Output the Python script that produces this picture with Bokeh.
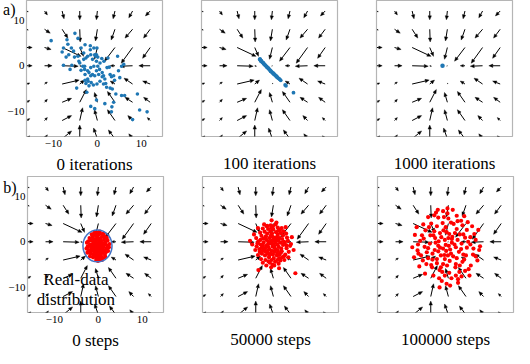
import math
from bokeh.plotting import figure
from bokeh.layouts import column, row
from bokeh.models import FixedTicker, LinearAxis, Range1d
from bokeh.core.properties import value
from bokeh.embed import file_html
from bokeh.resources import INLINE

# ---------------- data ----------------
grid_x = [-16, -12, -8, -4, 0, 4, 8, 12]
grid_y = [12, 8, 4, 0, -4, -8, -12, -16]   # rows, top to bottom

# vector field components (data units), rows follow grid_y, columns follow grid_x
U = [
    [0.30, 0.65, 0.43, 0.00, -0.22, -0.43, -0.86, -1.08],
    [0.30, 1.29, 1.29, 0.10, -0.43, -0.86, -1.72, -1.50],
    [1.20, 1.50, 4.30, 0.86, -0.65, -2.37, -2.58, -1.72],
    [1.20, 1.72, 3.66, 0.40, -0.15, -1.08, -2.80, -2.58],
    [0.65, 0.65, 3.87, 1.08, 0.10, -1.08, -1.94, -1.72],
    [0.65, 0.65, 2.15, 1.50, -0.65, -1.72, -1.72, -1.50],
    [0.65, 0.65, 2.15, 0.65, -0.65, -1.72, -1.08, -0.65],
    [0.65, 0.65, 2.15, 0.00, -0.86, -1.50, -0.86, -0.65],
]
V = [
    [-0.20, -0.86, -1.72, -1.94, -1.94, -1.72, -1.50, -1.08],
    [-0.20, -0.86, -1.94, -2.80, -2.58, -2.37, -1.94, -1.94],
    [0.00, -0.43, -1.94, -1.94, -2.58, -3.00, -3.44, -2.37],
    [0.00, 0.00, -0.10, -0.10, -0.10, 0.00, -0.10, 0.00],
    [0.22, 0.43, 0.86, 0.86, 0.20, 0.65, 1.29, 0.65],
    [0.43, 0.65, 0.86, 2.80, 2.15, 2.37, 1.08, 1.08],
    [0.43, 0.65, 1.08, 2.80, 2.37, 2.37, 1.08, 0.65],
    [0.65, 0.86, 1.72, 3.00, 2.37, 1.94, 1.08, 0.65],
]

axis_ticks = [-10, 0, 10]

captions_top = ["0 iterations", "100 iterations", "1000 iterations"]
captions_bottom = ["0 steps", "50000 steps", "100000 steps"]
panel_letters = ["a)", "b)"]
letter_y = [12.5, 13.0]
note_lines = ["Real-data", "distribution"]

# generated samples, 0 iterations
a1_x = [-10.5, -5.1, -6.9, -6.7, -4.4, -7.7, -8.0, -5.9, -5.2, -7.1, -7.7, -5.8, -4.2, -3.7, -2.8, -1.6,
        -0.8, -3.1, -2.2, -1.5, -2.6, -0.4, -0.2, 0.1, -1.1, -4.0, -3.3, -2.9, -2.2, -2.8, -1.9, -1.5,
        -0.8, 0.1, 0.5, -0.2, -1.1, -1.5, -0.6, 0.3, 1.1, 1.4, 1.7, 0.6, -0.1, -0.9, -1.9, -2.6,
        -4.7, -2.4, -1.4, 1.4, 2.1, 2.9, 3.2, 3.7, 2.7, 2.4, 4.6, 4.8, 5.1, 3.9, 3.4, 4.2, 5.5, 3.7,
        1.7, -0.2, -0.6, -1.5, -2.2, -2.8, -2.1, -2.9, -3.7, 1.0, 1.5, 0.6, -0.2, 2.2, 1.1, 1.9,
        2.9, 6.0, 5.5, 9.1, 6.2, 9.6, 11.3, 8.0, 3.2, 3.3, -0.1, -1.6, -3.1, -4.4, -6.5, -5.4,
        -6.2, -0.6]
a1_y = [5.5, 7.1, 5.7, 4.7, 6.0, 3.9, 3.0, 3.9, 1.9, 1.9, 0.1, 0.1, 1.0, 3.9, 4.6, 4.4,
        3.9, 2.8, 2.1, 2.4, 1.7, 2.1, 2.4, 1.9, 1.4, 0.6, -0.1, -0.8, -1.1, -1.9, -1.5, -0.4,
        -0.1, -0.1, -0.8, -1.1, -1.9, -2.2, -2.2, -1.9, -1.5, -2.2, -2.9, -3.4, -4.0, -4.2, -4.4, -3.9,
        -4.9, -5.8, -3.7, -4.0, -4.7, -1.9, -2.4, -2.2, -0.3, 1.7, 2.1, -1.1, -2.6, -3.2, -5.1, -6.2,
        -6.5, -8.0, -8.3, -7.5, -9.4, -8.9, -2.9, -3.2, -3.4, -0.1, -1.0, 1.6, 1.0, 0.6, 1.0, -0.4,
        -2.4, -3.9, -4.9, 0.3, -0.1, -6.2, -6.5, -9.7, -10.1, -11.8, -10.1, -9.0, 3.9, 3.5, 1.4, 2.1,
        2.4, 3.2, -0.8, 2.4]

# 100 iterations
a2_x = [-2.9, -2.8, -2.7, -2.6, -2.5, -2.4, -2.2, -2.1, -2.0, -1.9, -1.7, -1.6, -1.5, -1.3, -1.2, -1.0,
        -0.9, -0.8, -0.6, -0.5, -0.4, -0.3, -0.1, 0.1, 0.2, 0.3, 0.4, 0.6, 0.8, 0.9, 1.0, 1.1,
        1.3, 1.5, 1.7, 1.9, 2.9, 3.1, 4.8]
a2_y = [1.4, 1.5, 1.3, 1.0, 1.1, 0.9, 0.7, 0.7, 0.5, 0.4, 0.2, 0.1, 0.0, -0.2, -0.3, -0.5,
        -0.5, -0.7, -0.9, -1.0, -1.2, -1.2, -1.4, -1.6, -1.7, -1.7, -1.9, -2.0, -2.2, -2.3, -2.4, -2.5,
        -2.7, -2.8, -3.0, -3.2, -4.2, -4.4, -5.9]

# 1000 iterations
a3_x = [-1.1]
a3_y = [0.0]

# real-data samples (0 steps)
b1_x = [-0.4, 0.3, -1.2, 0.8, -0.6, 1.2, -1.5, 0.1, -0.9, 0.6, -0.2, 1.6, -1.9, 0.4, -0.7, 1.0,
        -1.3, 0.9, -2.2, 1.8, -0.1, -0.5, 0.5, -1.0, 0.2, -0.3, 1.3, -1.7, 0.7, -1.1, 2.0, -2.4,
        0.0, -0.8, 0.6, -0.4, 0.3, 1.5, -1.8, -2.6, 2.2, 1.4, -1.4, 0.9, -0.6, 0.4, -0.2, 1.1,
        -1.0, 0.0, -0.7, 0.7, -1.6, 1.7, -2.0, 2.1, -0.3, 0.3, -1.2, 1.0, -2.5, 2.4, -0.9, 1.2,
        -0.1, -1.5, 1.9, -2.3, 0.1, -0.5, 0.8, -1.9, 1.6, -2.7, 2.5, -0.2, 0.2, -1.3, 1.3, -0.8,
        0.5, -0.4, 0.9, -1.1, 1.5, -1.7, 0.0, -0.6, 0.6, -2.1]
b1_y = [-1.0, -0.5, -0.3, -1.6, 0.4, -0.8, -1.4, -2.1, -2.3, 0.2, 0.9, -0.2, -0.6, -2.8, -3.1, -2.4,
        1.0, 1.1, -1.8, -1.5, -1.5, -0.2, -1.1, -1.2, 0.0, -2.6, 0.4, 0.3, -3.3, -2.8, -0.9, -1.0,
        1.6, 1.5, 1.7, -3.6, -3.9, -2.9, -2.6, -0.2, -2.0, 1.2, -0.8, -0.3, -1.7, -1.8, -0.6, -1.2,
        0.0, -1.0, -0.8, -0.7, -2.0, -2.3, 0.8, 0.3, 2.0, 2.2, -3.4, -3.6, -2.4, -1.2, 2.0, 1.8,
        -4.2, 1.6, 0.9, 0.1, -3.2, -4.0, -4.0, -3.2, -3.4, -1.5, -0.5, -2.0, -1.3, -1.8, -1.9, -0.4,
        0.8, 1.2, -2.0, 0.6, -0.5, -1.1, 0.4, -2.9, -2.6, -2.2]

# generated samples, 50000 steps
b2_x = [-0.7, 0.5, -1.8, 1.2, -0.3, 2.0, -2.4, 0.2, -1.3, 1.0, -0.5, 2.6, -2.9, 0.8, -1.0, 1.7,
        -2.0, 1.5, -3.2, 3.0, -0.2, -1.1, 0.9, -1.6, 0.1, -0.6, 2.2, -2.7, 1.3, -1.9, 3.3, -3.6,
        0.0, -1.2, 1.0, -0.4, 0.4, 2.4, -2.6, -3.9, 3.5, 2.3, -2.2, 1.6, -0.9, 0.6, -0.3, 1.8,
        -1.6, 0.2, -1.2, 1.1, -2.4, 2.7, -3.0, 3.1, -0.6, 0.5, -1.8, 1.6, -3.5, 3.8, -1.5, 1.9,
        -0.2, -2.4, 2.9, -3.4, 0.1, -0.8, 1.2, -2.8, 2.5, -4.1, 4.0, -0.4, 0.3, -1.9, 1.9, -1.2,
        0.8, -0.6, 1.4, -1.7, 2.2, -2.6, 0.0, -0.9, 0.9, -3.1, -0.4, 0.7, -2.1, -1.4, 2.8, 4.2,
        -4.4, -4.8, 4.6, -0.5, 1.3, -1.6, -2.4, 3.4, 5.0, -3.5, -0.9, 0.4, -1.4, 1.4, -0.1, 2.4,
        -2.2, 0.6, -0.2, -1.9, 1.0, -0.7, 1.7, 2.0, -1.1, 0.2, -2.9, 3.0, -0.4, 0.9, -1.4, -0.1,
        1.1, -3.8, -3.4, -5.3]
b2_y = [-0.3, 0.4, 0.9, -1.1, 1.8, 0.6, -0.8, -2.2, -2.0, 1.5, 3.0, -0.2, 0.4, -3.0, -3.4, -2.4,
        2.2, 2.6, -1.6, -1.4, -1.0, 0.0, -0.6, -0.9, 0.9, -2.6, 1.4, 1.3, -3.6, -3.0, 0.2, -0.3,
        2.7, 2.8, 3.1, -4.0, -4.4, -3.2, -2.6, 0.8, -2.2, 2.3, -0.2, -0.2, -1.6, -1.7, -0.4, -1.5,
        0.4, -0.9, -1.1, 0.2, -1.9, -2.8, 2.0, 0.9, 3.6, 3.8, -4.0, -4.1, -2.9, -0.9, 3.4, 3.0,
        -5.0, 2.9, 1.8, 0.1, -3.6, -4.6, -4.8, -3.8, -4.0, -1.8, -0.5, -2.0, -1.4, -2.1, -2.1, -0.5,
        1.0, 1.3, -2.8, 1.2, -0.7, -1.2, 0.4, -3.0, -2.6, -2.2, 4.7, 4.2, 3.8, 3.5, 3.2, 1.0,
        1.6, -0.6, -1.8, -5.6, -5.8, -5.2, -4.6, -3.4, -6.9, 3.0, 0.8, -0.1, 1.8, 0.8, -2.8, 0.0,
        0.7, 2.1, 1.1, -1.4, -1.9, 2.2, 1.9, -3.4, -4.3, -5.2, -0.6, -0.8, 0.2, -4.0, -2.5, 3.4,
        2.4, -1.0, -6.2, 0.2]

# generated samples, 100000 steps
b3_x = [-1.2, 0.8, -3.4, 2.4, -0.6, 3.8, -4.6, 0.3, -2.6, 1.9, -1.0, 5.0, -5.6, 1.6, -2.0, 3.2,
        -3.9, 2.9, -6.2, 5.6, -0.5, -2.2, 1.7, -3.1, 0.2, -1.2, 4.2, -5.2, 2.5, -3.7, 6.2, -6.9,
        0.0, -2.3, 1.9, -0.8, 0.7, 4.6, -5.0, -7.6, 6.6, 4.4, -4.2, 3.0, -1.7, 1.1, -0.6, 3.4,
        -3.0, 0.4, -2.3, 2.1, -4.6, 5.1, -5.7, 5.9, -1.2, 1.0, -3.4, 3.0, -6.6, 7.0, -2.8, 3.6,
        -0.4, -4.6, 5.4, -6.4, 0.2, -1.5, 2.2, -5.3, 4.8, -7.8, 7.2, -0.8, 0.6, -3.6, 3.6, -2.3,
        1.5, -1.1, 2.6, -3.2, 4.2, -4.9, 0.0, -1.7, 1.7, -5.8, -0.2, -7.2, -8.2, 6.8, -1.6, 0.8,
        -2.6, 2.6, -0.3, 4.5, -4.1, 1.2, -0.4, -3.6, 1.9, -1.3, 3.2, 3.8, -2.1, 0.4, -5.4, 5.7,
        -0.8, 1.7, -2.6, -0.2, 2.1, -7.0, -1.9, 0.1, -2.9, 2.9, -0.9, 0.9, -1.9, 1.4, -3.9, 3.4,
        -6.0, -4.4, 2.2, -2.4, 4.0, -6.8, 6.2, -0.1, -1.4, 0.6, -3.2, 5.0, -2.0]
b3_y = [-1.5, 0.6, 1.4, -2.2, 3.2, 0.9, -1.4, -4.2, -3.8, 2.8, 5.4, -0.6, 0.7, -5.6, -6.2, -4.4,
        4.0, 4.6, -3.0, -2.8, -2.0, 0.1, -1.2, -1.8, 1.7, -4.9, 2.6, 2.5, -6.6, -5.6, 0.4, -0.6,
        5.1, 5.3, 5.7, -7.4, -8.0, -6.0, -4.9, 1.5, -4.1, 4.3, -0.4, -0.4, -3.0, -3.2, -0.7, -2.8,
        0.8, -1.7, -2.1, 0.4, -3.6, -5.2, 3.8, 1.7, 6.7, 7.0, -7.4, -7.6, -5.4, -1.8, 6.4, 5.6,
        -9.2, 5.4, 3.4, 0.2, -6.8, -8.6, -9.0, -7.0, -7.4, -3.4, -1.0, -3.8, -2.6, -3.9, -3.9, -0.9,
        1.9, 2.5, -5.2, 2.3, -1.3, -2.3, 0.8, -5.6, -4.9, -4.1, 7.3, 3.2, -1.2, 2.6, 1.0, -0.2,
        3.4, 1.6, -5.2, 0.0, 1.4, 3.9, 2.1, -2.6, -3.6, 4.1, 3.6, -6.4, -8.0, -9.6, -1.1, -1.5,
        0.4, -7.4, -4.7, 6.2, 4.5, -1.9, -1.3, -0.9, -0.2, -1.6, -2.9, 1.1, 1.9, -0.6, -5.1, 1.6,
        1.4, 3.2, -8.2, 7.0, -3.0, -2.6, -3.2, -3.0, -6.6, 4.2, 5.8, 1.0, -10.0]

# real-data region outline (center, width, height)
ring_x, ring_y, ring_w, ring_h = -0.2, -0.9, 6.6, 7.0

# ---------------- styling ----------------
FONT = "Liberation Serif"
XRANGE = (-16.1, 14.8)
YRANGE = (-15.5, 14.3)
FRAME = 136
SX = FRAME / (XRANGE[1] - XRANGE[0])   # px per x unit
SY = FRAME / (YRANGE[1] - YRANGE[0])   # px per y unit
BLUE = "#1f77b4"
RED = "#ff0000"
BOX = "#b5b5b5"


def draw_field(p):
    sx0, sy0, sx1, sy1, hx, hy = [], [], [], [], [], []
    for i, yv in enumerate(grid_y):
        for j, xv in enumerate(grid_x):
            u, v = U[i][j], V[i][j]
            pu, pv = u * SX, v * SY
            L = math.hypot(pu, pv)
            if L < 1e-9:
                continue
            dx, dy = pu / L, pv / L
            hl = min(4.0, 0.65 * L)
            hw = hl * 0.42
            tx, ty = xv + u, yv + v
            bx, by = tx - hl * dx / SX, ty - hl * dy / SY
            sx0.append(xv); sy0.append(yv); sx1.append(bx); sy1.append(by)
            hx.append([tx, bx - hw * dy / SX, bx + hw * dy / SX])
            hy.append([ty, by + hw * dx / SY, by - hw * dx / SY])
    p.segment(sx0, sy0, sx1, sy1, line_color="black", line_width=1.0)
    p.patches(hx, hy, fill_color="black", line_color="black", line_width=0.4)


def make_panel(caption, first_col, top_border, bottom_border, right_border, letter=None, ly=None):
    p = figure(frame_width=FRAME, frame_height=FRAME,
               x_range=Range1d(*XRANGE), y_range=Range1d(*YRANGE),
               output_backend="svg", toolbar_location=None,
               min_border_left=26, min_border_right=right_border,
               min_border_top=top_border, min_border_bottom=bottom_border)
    p.xgrid.visible = False
    p.ygrid.visible = False
    p.outline_line_color = BOX
    p.outline_line_width = 1.2
    p.background_fill_color = "white"
    p.border_fill_color = "white"
    xa = p.xaxis[0]
    xa.axis_line_color = None
    xa.major_tick_line_color = None
    xa.minor_tick_line_color = None
    xa.major_tick_out = 0
    xa.major_tick_in = 0
    xa.minor_tick_out = 0
    xa.axis_label = caption
    xa.axis_label_text_font = FONT
    xa.axis_label_text_font_size = "17px"
    xa.axis_label_text_font_style = "normal"
    xa.axis_label_text_color = "black"
    if first_col:
        xa.ticker = FixedTicker(ticks=axis_ticks)
        xa.major_label_text_font = FONT
        xa.major_label_text_font_size = "11px"
        xa.major_label_text_color = "black"
        xa.major_label_standoff = 3
        xa.axis_label_standoff = 5
        ya = p.yaxis[0]
        ya.ticker = FixedTicker(ticks=axis_ticks)
        ya.axis_line_color = None
        ya.major_tick_line_color = None
        ya.minor_tick_line_color = None
        ya.major_tick_out = 0
        ya.major_tick_in = 0
        ya.minor_tick_out = 0
        ya.major_label_text_font = FONT
        ya.major_label_text_font_size = "11px"
        ya.major_label_text_color = "black"
        ya.major_label_standoff = 2
        # panel letter, drawn as an extra left axis that overlaps the tick-label column
        la = LinearAxis(ticker=FixedTicker(ticks=[ly]), major_label_overrides={ly: letter},
                        axis_line_color=None, major_tick_line_color=None,
                        minor_tick_line_color=None, major_tick_out=0, major_tick_in=0,
                        minor_tick_out=0, minor_tick_in=0,
                        major_label_text_font=FONT, major_label_text_font_size="16px",
                        major_label_text_color="black", major_label_standoff=-11)
        p.add_layout(la, "left")
    else:
        xa.ticker = FixedTicker(ticks=[])
        xa.axis_label_standoff = 17
        p.yaxis.visible = False
    draw_field(p)
    return p


rights = [13, 13, 2]
top_panels = []
for k in range(3):
    top_panels.append(make_panel(captions_top[k], k == 0, 0, 38, rights[k],
                                 panel_letters[0], letter_y[0]))
bottom_panels = []
for k in range(3):
    bottom_panels.append(make_panel(captions_bottom[k], k == 0, 0, 36, rights[k],
                                    panel_letters[1], letter_y[1]))

a1, a2, a3 = top_panels
b1, b2, b3 = bottom_panels

a1.scatter(a1_x, a1_y, size=3.6, fill_color=BLUE, line_color=None)
a2.scatter(a2_x, a2_y, size=3.8, fill_color=BLUE, line_color=None)
a3.scatter(a3_x, a3_y, size=4.5, fill_color=BLUE, line_color=None)

b1.scatter(b1_x, b1_y, size=4.2, fill_color=RED, line_color=None)
b1.ellipse(x=[ring_x], y=[ring_y], width=[ring_w], height=[ring_h],
           fill_color=None, line_color="#4472c4", line_width=1.5)
b1.text(x=[-5.1, -5.1], y=[-8.3, -12.6], text=note_lines,
        text_font=value(FONT), text_font_size="17px", text_color="black",
        text_align="center", text_baseline="middle")
b2.scatter(b2_x, b2_y, size=4.2, fill_color=RED, line_color=None)
b3.scatter(b3_x, b3_y, size=4.2, fill_color=RED, line_color=None)

layout = column(row(a1, a2, a3), row(b1, b2, b3))

open("out.html", "w").write(file_html(layout, INLINE))
